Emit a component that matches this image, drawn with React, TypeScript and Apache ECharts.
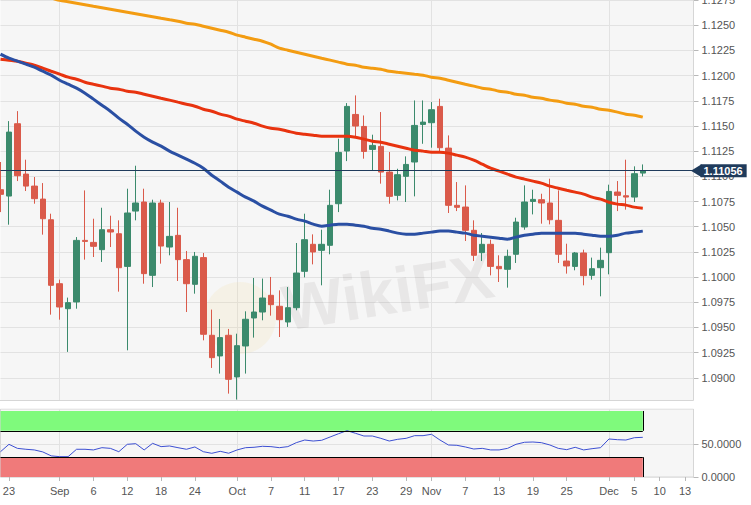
import React, { useEffect, useRef } from 'react';
import * as echarts from 'echarts';

const dates = [
  '08-22', '08-23', '08-26', '08-27', '08-28', '08-29', '08-30',
  '09-02', '09-03', '09-04', '09-05', '09-06',
  '09-09', '09-10', '09-11', '09-12', '09-13',
  '09-16', '09-17', '09-18', '09-19', '09-20',
  '09-23', '09-24', '09-25', '09-26', '09-27',
  '09-30',
  '10-01', '10-02', '10-03', '10-04',
  '10-07', '10-08', '10-09', '10-10', '10-11',
  '10-14', '10-15', '10-16', '10-17', '10-18',
  '10-21', '10-22', '10-23', '10-24', '10-25',
  '10-28', '10-29', '10-30', '10-31',
  '11-01',
  '11-04', '11-05', '11-06', '11-07', '11-08',
  '11-11', '11-12', '11-13', '11-14', '11-15',
  '11-18', '11-19', '11-20', '11-21', '11-22',
  '11-25', '11-26', '11-27', '11-28', '11-29',
  '12-02', '12-03', '12-04', '12-05', '12-06',
  '12-09', '12-10', '12-11', '12-12', '12-13',
  '12-16',
];

const opens = [
  1.10867, 1.10804, 1.11522, 1.11022, 1.10903, 1.10774, 1.10569,
  1.09934, 1.09686, 1.09753, 1.10364, 1.10344,
  1.10272, 1.1047, 1.1043, 1.10106, 1.10655,
  1.10745, 1.10017, 1.10735, 1.10298, 1.10414,
  1.10173, 1.09928, 1.10193, 1.09422, 1.09217,
  1.09422,
  1.09009, 1.09316, 1.09594, 1.09653,
  1.09819, 1.0971, 1.09554, 1.09696, 1.10057,
  1.10325, 1.10265, 1.10315, 1.10728, 1.11251,
  1.11614, 1.11495, 1.11267, 1.11297, 1.11042,
  1.10811, 1.11, 1.11142, 1.11515,
  1.11532,
  1.11694, 1.1128, 1.10712, 1.10695, 1.10464,
  1.10242, 1.10325, 1.10106, 1.10077, 1.10226,
  1.10497, 1.10751, 1.10768, 1.10735, 1.10563,
  1.10159, 1.10106, 1.10239, 1.10017, 1.10093,
  1.10242, 1.10844, 1.10807, 1.10794, 1.11032,
];
const closes = [
  1.10821, 1.11439, 1.11006, 1.10903, 1.10778, 1.10579, 1.09918,
  1.09703, 1.09746, 1.10364, 1.10354, 1.10305,
  1.1047, 1.10447, 1.10093, 1.10636, 1.10735,
  1.10034, 1.10735, 1.10308, 1.10404, 1.10173,
  1.09934, 1.10206, 1.09432, 1.092, 1.09399,
  1.08985,
  1.09319, 1.09581, 1.09653, 1.09792,
  1.09726, 1.09577, 1.09696, 1.1004, 1.10371,
  1.10249, 1.10325, 1.10712, 1.11237, 1.11694,
  1.11499, 1.11247, 1.11307, 1.11042, 1.10801,
  1.11016, 1.11118, 1.11505, 1.11538,
  1.11661,
  1.11284, 1.10712, 1.10692, 1.10464, 1.10216,
  1.10325, 1.10106, 1.10083, 1.10206, 1.10546,
  1.10745, 1.10771, 1.10735, 1.10569, 1.10226,
  1.1011, 1.10239, 1.10014, 1.10083, 1.10166,
  1.1085, 1.10811, 1.10794, 1.11026, 1.11056,
];
const highs = [
  1.11142, 1.11548, 1.11647, 1.11165, 1.10993, 1.10933, 1.10629,
  1.09974, 1.09796, 1.10397, 1.1086, 1.10579,
  1.10688, 1.10609, 1.10563, 1.10877, 1.11105,
  1.10877, 1.10768, 1.10768, 1.10745, 1.10688,
  1.10259, 1.10249, 1.10239, 1.09677, 1.09584,
  1.09485,
  1.09438, 1.0966, 1.09991, 1.09985,
  1.10001, 1.09868, 1.09901, 1.10338, 1.10629,
  1.10424, 1.1047, 1.10867, 1.11373, 1.11727,
  1.11803, 1.11604, 1.11413, 1.11638, 1.11241,
  1.11075, 1.11198, 1.11753, 1.11753,
  1.11737,
  1.1177, 1.11406, 1.10943, 1.1091, 1.10563,
  1.10437, 1.10371, 1.10216, 1.10272, 1.10589,
  1.1091, 1.10867, 1.10827, 1.10976, 1.1086,
  1.10331, 1.10249, 1.10272, 1.10193, 1.10292,
  1.10917, 1.10953, 1.11165, 1.11099, 1.11118,
];
const lows = [
  1.10645, 1.1052, 1.10953, 1.10854, 1.10728, 1.10421, 1.09627,
  1.09577, 1.09257, 1.09686, 1.10173, 1.10199,
  1.1015, 1.10298, 1.09855, 1.09273, 1.10563,
  1.09934, 1.09901, 1.10133, 1.10216, 1.09961,
  1.09653, 1.09835, 1.09372, 1.09098, 1.09042,
  1.08843,
  1.08784, 1.09042, 1.09399, 1.09571,
  1.09617, 1.09405, 1.09505, 1.0967, 1.09997,
  1.10126, 1.09918, 1.10226, 1.10645, 1.11151,
  1.1139, 1.11175, 1.11059, 1.10927, 1.10728,
  1.10761, 1.10745, 1.10801, 1.11323,
  1.11284,
  1.11241, 1.10636, 1.10655, 1.10358, 1.10159,
  1.10159, 1.10017, 1.09951, 1.09895, 1.1014,
  1.1047, 1.10622, 1.1053, 1.10523, 1.1014,
  1.10034, 1.10067, 1.09918, 1.09974, 1.09809,
  1.10027, 1.10655, 1.10669, 1.10745, 1.10999,
];

// moving averages (blue = fast, red = medium, orange = slow)
const maBlue = [
  1.12212, 1.12172, 1.12143, 1.12113, 1.12083, 1.12043, 1.12004,
  1.11954, 1.11914, 1.11875, 1.11825, 1.11766,
  1.11706, 1.11646, 1.11577, 1.11517, 1.11448,
  1.11388, 1.11339, 1.11299, 1.1125, 1.1121,
  1.1117, 1.1113, 1.11081, 1.11011, 1.10952,
  1.10892,
  1.10843, 1.10793, 1.10753, 1.10704,
  1.10664, 1.10624, 1.10604, 1.10575, 1.10555,
  1.10525, 1.10505, 1.10515, 1.10525, 1.10525,
  1.10515, 1.10505, 1.10485, 1.10475, 1.10456,
  1.10436, 1.10426, 1.10426, 1.10436,
  1.10446,
  1.10456, 1.10456, 1.10446, 1.10436, 1.10416,
  1.10406, 1.10396, 1.10386, 1.10376, 1.10396,
  1.10416, 1.10426, 1.10436, 1.10436, 1.10436,
  1.10436, 1.10436, 1.10426, 1.10416, 1.10406,
  1.10406, 1.10416, 1.10436, 1.10446, 1.10456,
];
const maRed = [
  1.12163, 1.12153, 1.12143, 1.12123, 1.12103, 1.12073, 1.12043,
  1.12014, 1.11984, 1.11964, 1.11934, 1.11914,
  1.11895, 1.11875, 1.11865, 1.11845, 1.11835,
  1.11815, 1.11795, 1.11775, 1.11756, 1.11736,
  1.11716, 1.11696, 1.11666, 1.11646, 1.11617,
  1.11597,
  1.11567, 1.11547, 1.11527, 1.11498,
  1.11478, 1.11468, 1.11448, 1.11428, 1.11418,
  1.11408, 1.11398, 1.11398, 1.11398, 1.11398,
  1.11388, 1.11369, 1.11349, 1.11339, 1.11319,
  1.11299, 1.11279, 1.11259, 1.1125,
  1.1124,
  1.1124, 1.1123, 1.1121, 1.1119, 1.1116,
  1.11121, 1.11081, 1.11051, 1.11021, 1.10992,
  1.10972, 1.10952, 1.10932, 1.10902, 1.10882,
  1.10862, 1.10843, 1.10823, 1.10793, 1.10773,
  1.10743, 1.10724, 1.10714, 1.10694, 1.10684,
];
const maOrange = [
  1.12857, 1.12842, 1.12827, 1.12813, 1.12798, 1.12783, 1.12768,
  1.12748, 1.12733, 1.12718, 1.12703, 1.12688,
  1.12674, 1.12659, 1.12644, 1.12629, 1.12614,
  1.12599, 1.12584, 1.12569, 1.12555, 1.1254,
  1.1252, 1.1251, 1.1249, 1.1247, 1.1245,
  1.1243,
  1.12401, 1.12381, 1.12361, 1.12341,
  1.12311, 1.12272, 1.12252, 1.12232, 1.12212,
  1.12192, 1.12172, 1.12153, 1.12133, 1.12113,
  1.12103, 1.12083, 1.12073, 1.12063, 1.12043,
  1.12033, 1.12024, 1.12014, 1.12004,
  1.11984,
  1.11974, 1.11954, 1.11934, 1.11914, 1.11895,
  1.11875, 1.11865, 1.11845, 1.11835, 1.11815,
  1.11805, 1.11785, 1.11775, 1.11756, 1.11746,
  1.11726, 1.11716, 1.11696, 1.11686, 1.11666,
  1.11656, 1.11637, 1.11617, 1.11607, 1.11587,
];

const rsi = [
  38.3, 49.5, 43.4, 42, 41, 38, 32,
  30.8, 30.8, 42, 42, 41,
  44.4, 43.4, 38.3, 49.5, 50.5,
  41, 51, 46, 47, 44.4,
  42, 45.5, 38.3, 35.9, 38.9,
  36,
  41, 44.4, 45, 46.5,
  46, 44.4, 46, 52, 56,
  54.5, 55.6, 60.6, 65.6, 70.2,
  66.2, 62.1, 62.1, 58.6, 54.5,
  57.1, 58.6, 62.6, 62.6,
  64.7,
  56, 48.5, 48, 45.5, 42.4,
  43.4, 41, 41, 43.4, 49.5,
  52.6, 53, 52, 48.5, 43.4,
  41.4, 45, 41, 42.9, 44.4,
  57.6, 56.5, 56, 59.5, 60.1,
];
const rsiUpper = 70;
const rsiLower = 30;
const rsiTop = 100;

const tickDates = ['08-23', '09-02', '09-06', '09-12', '09-18', '09-24', '10-01', '10-07', '10-11', '10-17', '10-23', '10-29', '11-01', '11-07', '11-13', '11-19', '11-25', '12-02', '12-05', '12-10', '12-13'];
const tickLabels = ['23', 'Sep', '6', '12', '18', '24', 'Oct', '7', '11', '17', '23', '29', 'Nov', '7', '13', '19', '25', 'Dec', '5', '10', '13'];
const monthStarts = ['09-02', '10-01', '11-01', '12-02'];

const GREEN = '#3b8a6c';
const RED = '#da5a4a';
const NAVY = '#1f3b5c';
const FONT = 'Liberation Sans, Arial, Helvetica, sans-serif';
const GRID_RIGHT = 693.5;

export default function App() {
  const ref = useRef<HTMLDivElement>(null);

  useEffect(() => {
    if (!ref.current) return;
    const chart = echarts.init(ref.current, null, { renderer: 'svg' });
    const labelMap = new Map<string, string>();
    tickDates.forEach((d, i) => labelMap.set(d, tickLabels[i]));
    const monthSet = new Set(monthStarts);
    const candles = opens.map((o, i) => [o, closes[i], lows[i], highs[i]]);
    const last = closes.length - 1;
    const lastPrice = closes[last];
    const firstDate = dates[0];
    const lastDate = dates[last];

    const option: any = {
      animation: false,
      backgroundColor: '#ffffff',
      textStyle: { fontFamily: FONT },
      grid: [
        { left: 0.5, top: 0, width: 693, height: 403, show: true, backgroundColor: '#f6f6f6', borderWidth: 0, outerBoundsMode: 'none', containLabel: false },
        { left: 0.5, top: 409, width: 693, height: 68, show: true, backgroundColor: '#f6f6f6', borderColor: '#d6d6d6', borderWidth: 1, outerBoundsMode: 'none', containLabel: false },
      ],
      xAxis: [
        {
          type: 'category', gridIndex: 0, data: dates, boundaryGap: false,
          axisLine: { show: false }, axisTick: { show: false }, axisLabel: { show: false },
          splitLine: { show: true, interval: (i: number, v: string) => monthSet.has(v), lineStyle: { color: '#e2e2e2', width: 1 } },
        },
        {
          type: 'category', gridIndex: 1, data: dates, boundaryGap: false,
          axisLine: { show: false },
          axisTick: { show: true, interval: (i: number, v: string) => labelMap.has(v), length: 4, lineStyle: { color: '#b8b8b8' } },
          axisLabel: {
            show: true, interval: (i: number, v: string) => labelMap.has(v),
            formatter: (v: string) => labelMap.get(v) ?? '',
            color: '#555', fontSize: 11, fontFamily: FONT, margin: 8,
          },
          splitLine: { show: true, interval: (i: number, v: string) => monthSet.has(v), lineStyle: { color: '#e2e2e2', width: 1 } },
        },
      ],
      yAxis: [
        {
          type: 'value', gridIndex: 0, position: 'right', min: 1.0875, max: 1.1275, interval: 0.0025, scale: true,
          axisLine: { show: false },
          axisTick: { show: true, length: 5, lineStyle: { color: '#b8b8b8' } },
          axisLabel: { show: true, showMinLabel: false, formatter: (v: number) => v.toFixed(4), color: '#555', fontSize: 11, fontFamily: FONT, margin: 8 },
          splitLine: { show: true, showMinLine: false, lineStyle: { color: '#e2e2e2', width: 1 } },
        },
        {
          type: 'value', gridIndex: 1, position: 'right', min: 0, max: 103, interval: 50,
          axisLine: { show: false },
          axisTick: { show: true, length: 5, lineStyle: { color: '#b8b8b8' }, customValues: [0, 50] },
          axisLabel: { show: true, customValues: [0, 50], formatter: (v: number) => (v > 60 ? '' : v.toFixed(4)), color: '#555', fontSize: 11, fontFamily: FONT, margin: 8 },
          splitLine: { show: true, lineStyle: { color: '#e2e2e2', width: 1 } },
        },
      ],
      series: [
        {
          type: 'candlestick', xAxisIndex: 0, yAxisIndex: 0, data: candles, barWidth: 6, silent: true, clip: true,
          itemStyle: { color: GREEN, color0: RED, borderColor: GREEN, borderColor0: RED, borderWidth: 1 },
          markLine: {
            silent: true, symbol: ['none', 'none'], animation: false, precision: 5,
            lineStyle: { color: NAVY, width: 1, type: 'solid' },
            label: {
              show: true, position: 'end', distance: 7, formatter: () => lastPrice.toFixed(5),
              color: '#ffffff', fontWeight: 'bold', fontSize: 11, fontFamily: FONT,
              backgroundColor: NAVY, padding: [1, 4, 0, 3], lineHeight: 12,
            },
            data: [{ yAxis: lastPrice }],
          },
        },
        {
          type: 'line', xAxisIndex: 0, yAxisIndex: 0, data: maOrange, showSymbol: false, smooth: 0.3, silent: true,
          lineStyle: { color: '#f39c12', width: 3 },
        },
        {
          type: 'line', xAxisIndex: 0, yAxisIndex: 0, data: maRed, showSymbol: false, smooth: 0.3, silent: true,
          lineStyle: { color: '#e8330f', width: 3 },
        },
        {
          type: 'line', xAxisIndex: 0, yAxisIndex: 0, data: maBlue, showSymbol: false, smooth: 0.3, silent: true,
          lineStyle: { color: '#2a4fa3', width: 3 },
        },
        {
          type: 'line', xAxisIndex: 1, yAxisIndex: 1, data: rsi, showSymbol: false, silent: true,
          lineStyle: { color: '#3c4fd2', width: 1 },
          markArea: {
            silent: true,
            data: [
              [{ xAxis: firstDate, yAxis: rsiUpper, itemStyle: { color: '#7ffa7c' } }, { xAxis: lastDate, yAxis: rsiTop }],
              [{ xAxis: firstDate, yAxis: 0, itemStyle: { color: '#f07a7a' } }, { xAxis: lastDate, yAxis: rsiLower }],
            ],
          },
          markLine: {
            silent: true, symbol: ['none', 'none'], animation: false,
            lineStyle: { color: '#000000', width: 1, type: 'solid' },
            label: { show: false },
            data: [
              [{ coord: [firstDate, rsiUpper] }, { coord: [lastDate, rsiUpper] }],
              [{ coord: [firstDate, rsiLower] }, { coord: [lastDate, rsiLower] }],
              [{ coord: [lastDate, rsiUpper] }, { coord: [lastDate, rsiTop] }],
              [{ coord: [lastDate, 0] }, { coord: [lastDate, rsiLower] }],
            ],
          },
        },
      ],
    };
    chart.setOption(option);

    const yPix = chart.convertToPixel({ yAxisIndex: 0 } as any, lastPrice) as number;
    chart.setOption({
      graphic: [
        {
          type: 'text', z: 1, silent: true, x: 388, y: 292, rotation: 0.16,
          style: { text: 'WikiFX', fontSize: 64, fontWeight: 'bold', fontFamily: FONT, fill: 'rgba(140,130,130,0.13)', align: 'center', verticalAlign: 'middle' },
        },
        {
          type: 'circle', z: 1, silent: true, shape: { cx: 240, cy: 318, r: 36 },
          style: { fill: 'rgba(245,215,150,0.16)' },
        },
        {
          type: 'rect', z: 100, silent: true, shape: { x: 0, y: 400.5, width: 720, height: 8 },
          style: { fill: '#ffffff' },
        },
        {
          type: 'line', z: 101, silent: true, shape: { x1: 0, y1: 400.5, x2: GRID_RIGHT, y2: 400.5 },
          style: { stroke: '#d6d6d6', lineWidth: 1 },
        },
        {
          type: 'line', z: 101, silent: true, shape: { x1: GRID_RIGHT, y1: 0, x2: GRID_RIGHT, y2: 400.5 },
          style: { stroke: '#d6d6d6', lineWidth: 1 },
        },
        {
          type: 'polygon', z: 102, silent: true,
          shape: { points: [[GRID_RIGHT - 2.5, yPix], [GRID_RIGHT + 8, yPix - 6.5], [GRID_RIGHT + 8, yPix + 6.5]] },
          style: { fill: NAVY },
        },
      ],
    });

    return () => chart.dispose();
  }, []);

  return (
    <div
      ref={ref}
      style={{ position: 'fixed', left: 0, top: 0, width: 751, height: 505, background: '#fff' }}
    />
  );
}
